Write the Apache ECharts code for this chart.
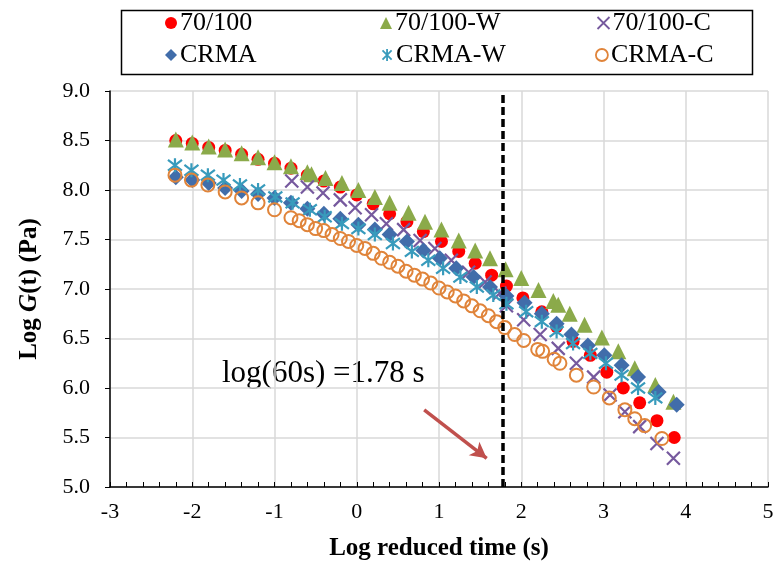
<!DOCTYPE html>
<html>
<head>
<meta charset="utf-8">
<script src="https://cdn.jsdelivr.net/npm/echarts@6/dist/echarts.min.js"></script>
<style>
  html, body { margin: 0; padding: 0; background: #fff; }
  #chart { width: 778px; height: 572px; }
</style>
</head>
<body>
<div id="chart"></div>
<script>
// Relaxation modulus master curves: log G(t) vs log reduced time
const logTime_70_100 = [-2.2,-2.0,-1.8,-1.6,-1.4,-1.2,-1.0,-0.8,-0.6,-0.4,-0.2,0.0,0.2,0.4,0.61,0.81,1.03,1.24,1.44,1.64,1.82,2.02,2.25,2.43,2.63,2.84,3.04,3.24,3.44,3.65,3.86];
const logG_70_100    = [8.50,8.47,8.43,8.40,8.36,8.31,8.27,8.22,8.15,8.09,8.03,7.95,7.86,7.76,7.68,7.58,7.48,7.38,7.26,7.14,7.03,6.91,6.77,6.62,6.47,6.33,6.16,6.00,5.85,5.67,5.50];

const logTime_70_100_W = [-2.2,-2.0,-1.8,-1.6,-1.4,-1.2,-1.0,-0.8,-0.6,-0.55,-0.38,-0.18,0.02,0.22,0.40,0.63,0.83,1.03,1.24,1.44,1.62,1.81,2.0,2.21,2.39,2.45,2.59,2.77,2.98,3.18,3.38,3.63,3.85];
const logG_70_100_W    = [8.51,8.48,8.44,8.41,8.37,8.33,8.28,8.24,8.18,8.16,8.12,8.07,8.00,7.93,7.87,7.77,7.68,7.60,7.49,7.39,7.31,7.20,7.11,6.99,6.88,6.84,6.75,6.64,6.51,6.37,6.20,6.03,5.86];

const logTime_70_100_C = [-0.79,-0.6,-0.41,-0.2,-0.02,0.18,0.36,0.57,0.77,0.95,1.15,1.36,1.56,1.74,1.82,2.03,2.23,2.45,2.67,2.88,3.08,3.26,3.44,3.65,3.85];
const logG_70_100_C    = [8.09,8.03,7.97,7.90,7.82,7.75,7.66,7.60,7.49,7.41,7.29,7.17,7.07,6.96,6.83,6.69,6.54,6.40,6.25,6.11,5.93,5.76,5.61,5.44,5.29];

const logTime_CRMA = [-2.2,-2.0,-1.8,-1.6,-1.4,-1.2,-1.0,-0.8,-0.6,-0.4,-0.2,0.02,0.22,0.40,0.61,0.81,1.01,1.21,1.42,1.62,1.82,2.04,2.25,2.43,2.61,2.81,3.01,3.22,3.42,3.67,3.89];
const logG_CRMA    = [8.13,8.10,8.07,8.02,7.99,7.96,7.92,7.87,7.81,7.76,7.71,7.65,7.60,7.55,7.48,7.39,7.31,7.21,7.12,7.02,6.93,6.86,6.75,6.65,6.54,6.43,6.33,6.23,6.11,5.96,5.83];

const logTime_CRMA_W = [-2.21,-2.01,-1.81,-1.62,-1.42,-1.2,-0.99,-0.78,-0.57,-0.39,-0.18,0.02,0.22,0.44,0.67,0.87,1.05,1.26,1.46,1.66,1.82,2.06,2.25,2.43,2.63,2.84,3.03,3.22,3.42,3.63];
const logG_CRMA_W    = [8.25,8.20,8.15,8.10,8.05,8.00,7.93,7.87,7.80,7.73,7.66,7.61,7.55,7.46,7.38,7.29,7.21,7.12,7.02,6.94,6.85,6.77,6.67,6.57,6.45,6.35,6.25,6.13,6.00,5.90];

const logTime_CRMA_C = [-2.21,-2.01,-1.81,-1.6,-1.4,-1.2,-1.0,-0.8,-0.7,-0.6,-0.5,-0.4,-0.3,-0.2,-0.1,0.0,0.1,0.2,0.3,0.4,0.5,0.6,0.7,0.8,0.9,1.0,1.1,1.2,1.3,1.4,1.5,1.6,1.7,1.8,1.92,2.03,2.2,2.26,2.4,2.47,2.67,2.88,3.07,3.26,3.38,3.5,3.71];
const logG_CRMA_C    = [8.15,8.10,8.05,7.98,7.92,7.87,7.80,7.72,7.69,7.65,7.61,7.59,7.55,7.51,7.48,7.44,7.41,7.36,7.31,7.27,7.23,7.18,7.14,7.10,7.06,7.01,6.97,6.93,6.88,6.83,6.78,6.73,6.67,6.61,6.54,6.48,6.39,6.37,6.29,6.25,6.13,6.01,5.90,5.78,5.69,5.62,5.49];

const seriesNames = ['70/100', '70/100-W', '70/100-C', 'CRMA', 'CRMA-W', 'CRMA-C'];

// 60 s loading time on the log scale
const cutoffLogTime = 1.78;
const cutoffLabel = 'log(60s) =1.78 s';
// arrow pointing at the cut-off line, in axis units
const arrowFrom = [0.82, 5.78];
const arrowTo = [1.58, 5.29];

const FONT = '"Liberation Serif", "Times New Roman", serif';

const zip = (xs, ys) => xs.map((x, i) => [x, ys[i]]);

const crossPath = 'path://M0,0L10,10M10,0L0,10';
const starPath = 'path://M1.2,1.2L8.8,8.8M8.8,1.2L1.2,8.8M5,0L5,10';

const styles = [
  { symbol: 'circle', size: 13, item: { color: '#FF0000', opacity: 1 } },
  { symbol: 'triangle', size: 16, item: { color: '#8BAA4A', opacity: 1 } },
  { symbol: crossPath, size: 13, item: { color: 'none', borderColor: '#76599E', borderWidth: 2.2, opacity: 1 } },
  { symbol: 'diamond', size: 16, item: { color: '#416DAA', opacity: 1 } },
  { symbol: starPath, size: 14, item: { color: 'none', borderColor: '#389BBC', borderWidth: 2.2, opacity: 1 } },
  { symbol: 'circle', size: 13, item: { color: 'rgba(255,255,255,0)', borderColor: '#E0843A', borderWidth: 2, opacity: 1 } }
];

const datasets = [
  zip(logTime_70_100, logG_70_100),
  zip(logTime_70_100_W, logG_70_100_W),
  zip(logTime_70_100_C, logG_70_100_C),
  zip(logTime_CRMA, logG_CRMA),
  zip(logTime_CRMA_W, logG_CRMA_W),
  zip(logTime_CRMA_C, logG_CRMA_C)
];

const series = seriesNames.map((name, i) => ({
  name,
  type: 'scatter',
  data: datasets[i],
  symbol: styles[i].symbol,
  symbolSize: styles[i].size,
  itemStyle: styles[i].item,
  emphasis: { disabled: true },
  animation: false
}));

// dashed cut-off line and arrow annotation
series.push({
  type: 'scatter',
  data: [],
  silent: true,
  markLine: {
    silent: true,
    animation: false,
    label: { show: false },
    data: [
      [
        { xAxis: cutoffLogTime, yAxis: 5, symbol: 'none' },
        { xAxis: cutoffLogTime, yAxis: 9, symbol: 'none',
          lineStyle: { color: '#000', width: 3.5, type: [8, 4] } }
      ],
      [
        { coord: arrowFrom, symbol: 'none' },
        { coord: arrowTo, symbol: 'arrow', symbolSize: [13, 16],
          lineStyle: { color: '#C0504D', width: 3.5, type: 'solid' } }
      ]
    ]
  }
});

// legend: 3 columns x 2 rows
const colLeft = [165, 380, 595];
const rowTop = [10, 42];
const legendIcons = [
  { icon: 'circle', itemStyle: { color: '#FF0000', borderWidth: 0 } },
  { icon: 'triangle', itemStyle: { color: '#8BAA4A', borderWidth: 0 } },
  { icon: crossPath, itemStyle: { color: 'none', borderColor: '#76599E', borderWidth: 1.8 } },
  { icon: 'diamond', itemStyle: { color: '#416DAA', borderWidth: 0 } },
  { icon: starPath, itemStyle: { color: 'none', borderColor: '#389BBC', borderWidth: 1.8 } },
  { icon: 'circle', itemStyle: { color: '#fff', borderColor: '#E0843A', borderWidth: 1.8 } }
];
const legends = seriesNames.map((name, i) => ({
  left: colLeft[i % 3],
  top: rowTop[Math.floor(i / 3)],
  padding: 0,
  itemWidth: 12,
  itemHeight: 12,
  itemGap: 0,
  selectedMode: false,
  textStyle: { fontFamily: FONT, fontSize: 26, color: '#000', padding: [0, 0, 0, -2] },
  data: [Object.assign({ name }, legendIcons[i])]
}));

const option = {
  backgroundColor: '#fff',
  animation: false,
  legend: legends,
  grid: { left: 110, right: 10, top: 91, bottom: 85, containLabel: false },
  xAxis: {
    type: 'value',
    min: -3,
    max: 5,
    interval: 1,
    name: 'Log reduced time (s)',
    nameLocation: 'middle',
    nameGap: 49,
    nameTextStyle: { fontFamily: FONT, fontSize: 25, fontWeight: 'bold', color: '#000' },
    axisLine: { onZero: false, lineStyle: { color: '#000', width: 1.5 } },
    axisTick: { show: true, inside: true, length: 5, lineStyle: { color: '#000', width: 1 } },
    minorTick: { show: true, splitNumber: 5, length: 5, lineStyle: { color: '#000', width: 1 } },
    axisLabel: { fontFamily: FONT, fontSize: 22, color: '#000', margin: 14 },
    splitLine: { show: true, lineStyle: { color: '#D9D9D9', width: 1.5 } }
  },
  yAxis: {
    type: 'value',
    min: 5,
    max: 9,
    interval: 0.5,
    name: '{b|Log }{bi|G}{b|(t) (Pa)}',
    nameLocation: 'middle',
    nameGap: 68,
    nameRotate: 90,
    nameTextStyle: {
      rich: {
        b: { fontFamily: FONT, fontSize: 25, fontWeight: 'bold', color: '#000' },
        bi: { fontFamily: FONT, fontSize: 25, fontWeight: 'bold', fontStyle: 'italic', color: '#000' }
      }
    },
    axisLine: { show: true, onZero: false, lineStyle: { color: '#000', width: 1.5 } },
    axisTick: { show: true, inside: false, length: 5, lineStyle: { color: '#000', width: 1 } },
    axisLabel: { fontFamily: FONT, fontSize: 22, color: '#000', margin: 20,
                 formatter: v => v.toFixed(1) },
    splitLine: { show: true, lineStyle: { color: '#D9D9D9', width: 1.5 } }
  },
  graphic: [
    {
      type: 'rect',
      left: 119, top: 8, z: 10,
      shape: { width: 631, height: 64 },
      style: { fill: 'none', stroke: '#000', lineWidth: 1.5 }
    },
    {
      type: 'group',
      left: 215, top: 345, z: 10,
      children: [
        { type: 'rect', shape: { x: 0, y: 0, width: 243, height: 60 }, style: { fill: '#fff' } },
        { type: 'text', x: 7, y: 29,
          style: { text: cutoffLabel, font: '31px ' + FONT, fill: '#000', verticalAlign: 'middle' } }
      ]
    }
  ],
  series
};

const chart = echarts.init(document.getElementById('chart'), null, { renderer: 'canvas' });
chart.setOption(option);
</script>
</body>
</html>
